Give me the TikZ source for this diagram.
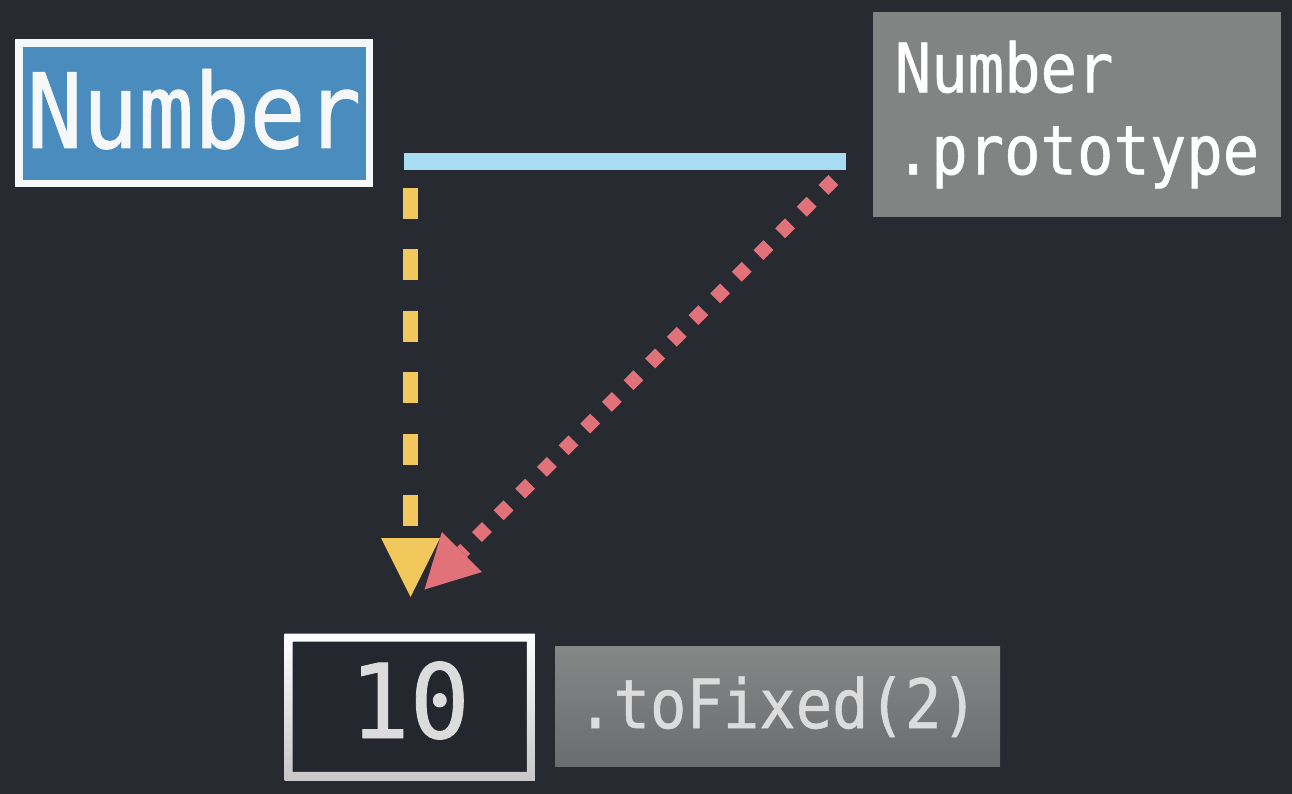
\documentclass[tikz,border=0pt]{standalone}
\usepackage{fontspec}
\usetikzlibrary{arrows.meta,calc}
\newfontfamily\codefont[FakeStretch=0.89,FakeBold=0.8]{DejaVu Sans Mono}
\newfontfamily\codefontw[FakeStretch=0.97,FakeBold=0.8]{DejaVu Sans Mono}
\definecolor{bg}{HTML}{272A31}
\definecolor{bginner}{HTML}{24272E}
\definecolor{numblue}{HTML}{4B8CBE}
\definecolor{boxwhite}{HTML}{F5F7F8}
\definecolor{protogray}{HTML}{828484}
\definecolor{linkblue}{HTML}{A7DCF3}
\definecolor{linkyellow}{HTML}{F2C75C}
\definecolor{linkred}{HTML}{E2727A}
\definecolor{fixtop}{HTML}{858787}
\definecolor{fixbot}{HTML}{6A6C6E}
\definecolor{lighttext}{HTML}{DCDCDC}
\tikzset{
  numboxstyle/.style={draw=boxwhite, line width=7.5pt, fill=numblue, inner sep=0pt,
    minimum width=350.5pt, minimum height=140.5pt, text=boxwhite,
    font=\codefont\fontsize{104}{104}\selectfont, text height=69pt, text depth=0pt},
  protoboxstyle/.style={fill=protogray, inner sep=0pt, minimum width=408pt,
    minimum height=205pt, align=left, text=white,
    font=\codefont\fontsize{68}{82}\selectfont},
  tenboxstyle/.style={fill=bginner, inner sep=0pt, minimum width=234pt,
    minimum height=130pt, text=lighttext,
    font=\codefontw\fontsize{103}{103}\selectfont, text height=62.6pt, text depth=0pt},
  fixboxstyle/.style={top color=fixtop, bottom color=fixbot, inner sep=0pt,
    minimum width=445pt, minimum height=119.7pt, text=lighttext,
    font=\codefont\fontsize{68}{68}\selectfont, text height=55pt, text depth=12.4pt},
  protoline/.style={draw=linkblue, line width=17pt},
  yellowlink/.style={draw=linkyellow, line width=15pt, dash pattern=on 31pt off 30.4pt,
    -{Triangle[width=59pt, length=59pt, line width=0pt]}},
  redlink/.style={draw=linkred, line width=14pt, dash pattern=on 14pt off 16.65pt,
    -{Triangle[width=56.6pt, length=53pt, line width=0pt]}}
}
\begin{document}
\begin{tikzpicture}[x=1pt,y=-1pt]
\fill[bg] (0,0) rectangle (1292,794);
\useasboundingbox (0,0) rectangle (1292,794);

\node[numboxstyle] (num) at (194,113.5) {Number};
\node[protoboxstyle] (proto) at (1077,114.5) {Number\\.prototype};

\coordinate (pl) at (404,161.5);
\coordinate (pr) at (846,161.5);
\draw[protoline] (pl) -- (pr);

\node[tenboxstyle] (ten) at (409.7,706.7) {10};
\shade[top color=white, bottom color=black!22, even odd rule]
  ($(ten.north west)+(-8,-8)$) rectangle ($(ten.south east)+(8,9)$)
  (ten.north west) rectangle (ten.south east);
\node[fixboxstyle] (fix) at (777.5,706.8) {.toFixed(2)};

\coordinate (ys) at (410.5,188);
\coordinate (yt) at (410.5,597);
\coordinate (rs) at (833.3,180);
\coordinate (rt) at (424.5,589.5);
\draw[yellowlink] (ys) -- (yt);
\draw[redlink] (rs) -- (rt);
\end{tikzpicture}
\end{document}
